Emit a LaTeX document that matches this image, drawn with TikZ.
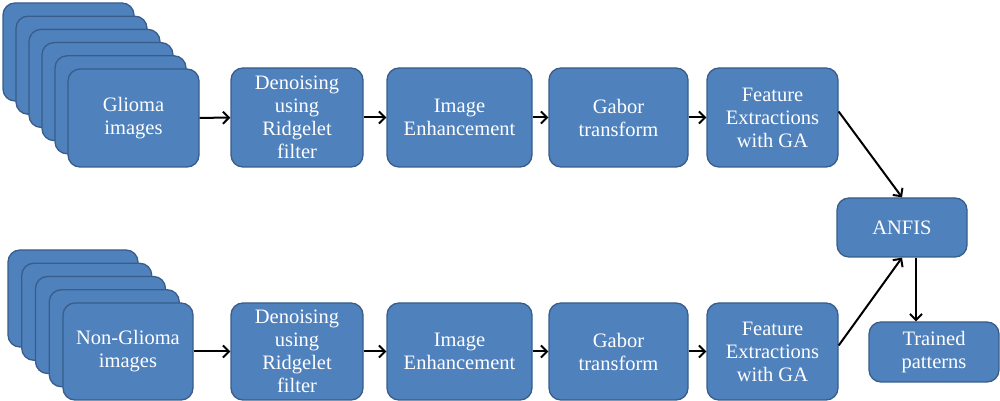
\documentclass[tikz,border=0pt]{standalone}
\usepackage{fontspec}
\setmainfont{Liberation Serif}
\usetikzlibrary{arrows.meta}
\definecolor{boxfill}{HTML}{4F81BD}
\definecolor{boxedge}{HTML}{385D8A}
\begin{document}
\begin{tikzpicture}[x=1pt,y=1pt,
  box/.style={draw=boxedge, fill=boxfill, rounded corners=12pt, line width=1.3pt,
    text=white, align=center, font=\fontsize{20.5}{23}\selectfont, inner sep=0pt},
  flow/.style={-{Straight Barb[length=6pt,width=12pt,line width=2pt]}, line width=2pt, black}]
\useasboundingbox (0,0) rectangle (1000,401);
% stack of glioma images
\foreach \i in {0,...,4}{
  \node[box, minimum width=131pt, minimum height=98pt] (g\i) at (68.5+13*\i, 349-13.2*\i) {};
}
\node[box, minimum width=131pt, minimum height=98pt] (glioma) at (133.5, 283) {Glioma\\images};
% stack of non-glioma images
\foreach \i in {0,...,3}{
  \node[box, minimum width=130pt, minimum height=97pt] (n\i) at (73+13.75*\i, 102.5-13.25*\i) {};
}
\node[box, minimum width=130pt, minimum height=97pt] (nonglioma) at (128, 49.5) {Non-Glioma\\images};
% upper chain
\node[box, minimum width=132pt, minimum height=99pt] (den1) at (297, 283.5) {Denoising\\using\\Ridgelet\\filter};
\node[box, minimum width=145pt, minimum height=99pt] (enh1) at (459.5, 283.5) {Image\\Enhancement};
\node[box, minimum width=139pt, minimum height=99pt] (gab1) at (618.5, 283.5) {Gabor\\transform};
\node[box, minimum width=131pt, minimum height=99pt] (fea1) at (772.5, 283.5) {Feature\\Extractions\\with GA};
% lower chain
\node[box, minimum width=132pt, minimum height=97pt] (den2) at (297, 49.5) {Denoising\\using\\Ridgelet\\filter};
\node[box, minimum width=145pt, minimum height=97pt] (enh2) at (459.5, 49.5) {Image\\Enhancement};
\node[box, minimum width=139pt, minimum height=97pt] (gab2) at (618.5, 49.5) {Gabor\\transform};
\node[box, minimum width=131pt, minimum height=97pt] (fea2) at (772.5, 49.5) {Feature\\Extractions\\with GA};
% classifier and output
\node[box, minimum width=130pt, minimum height=59pt] (anfis) at (902, 173.5) {ANFIS};
\node[box, minimum width=130pt, minimum height=60pt] (trained) at (934, 49) {Trained\\patterns};
% connectors
\draw[flow] (glioma) -- (den1);
\draw[flow] (den1) -- (enh1);
\draw[flow] (enh1) -- (gab1);
\draw[flow] (gab1) -- (fea1);
\draw[flow] (nonglioma) -- (den2);
\draw[flow] (den2) -- (enh2);
\draw[flow] (enh2) -- (gab2);
\draw[flow] (gab2) -- (fea2);
\draw[flow] ([yshift=6pt]fea1.east) -- (anfis.north);
\draw[flow] ([yshift=6pt]fea2.east) -- (anfis.south);
\draw[flow] ([xshift=14pt]anfis.south) -- ([xshift=14pt]anfis.south |- trained.north);
\end{tikzpicture}
\end{document}
